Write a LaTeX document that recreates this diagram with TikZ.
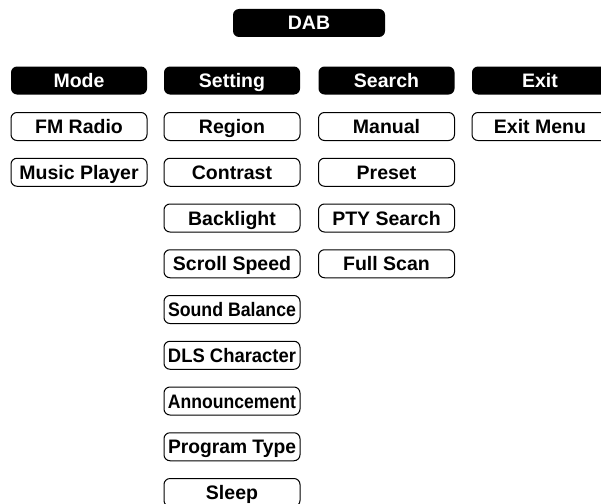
\documentclass[tikz,border=0pt]{standalone}
\usepackage{fontspec}
\setmainfont{Liberation Sans}
\usepackage{graphicx}
\newsavebox{\lblbox}
\newcommand{\fitlbl}[1]{\sbox{\lblbox}{#1}\ifdim\wd\lblbox>128pt\resizebox{128pt}{\ht\lblbox}{\usebox{\lblbox}}\else\usebox{\lblbox}\fi}
\tikzset{
  base/.style={rounded corners=6pt, minimum width=136pt, minimum height=28pt, inner sep=0pt, text height=14pt, text depth=0pt, font=\fontsize{19.5}{19.5}\selectfont\bfseries},
  hdr/.style={base, fill=black, text=white},
  item/.style={base, draw=black, line width=1pt, fill=white, text=black},
}
\begin{document}
\begin{tikzpicture}[x=1pt,y=-1pt]
\useasboundingbox (0,0) rectangle (601,503);
\clip (0,0) rectangle (601,503);
\node[hdr, minimum width=152pt] (dab) at (309,23) {DAB};
% headers
\node[hdr] (mode) at (79,80.5) {Mode};
\node[hdr] (setting) at (232,80.5) {Setting};
\node[hdr] (search) at (386.5,80.5) {Search};
\node[hdr] (exit) at (540,80.5) {Exit};
% Mode column
\node[item] (fm) at (79,126.5) {\fitlbl{FM Radio}};
\node[item] (music) at (79,172.25) {\fitlbl{Music Player}};
% Setting column
\node[item] (region) at (232,126.5) {\fitlbl{Region}};
\node[item] (contrast) at (232,172.25) {\fitlbl{Contrast}};
\node[item] (backlight) at (232,218) {\fitlbl{Backlight}};
\node[item] (scroll) at (232,263.75) {\fitlbl{Scroll Speed}};
\node[item] (sound) at (232,309.5) {\fitlbl{Sound Balance}};
\node[item] (dls) at (232,355.25) {\fitlbl{DLS Character}};
\node[item] (announce) at (232,401) {\fitlbl{Announcement}};
\node[item] (program) at (232,446.75) {\fitlbl{Program Type}};
\node[item] (sleep) at (232,492.5) {\fitlbl{Sleep}};
% Search column
\node[item] (manual) at (386.5,126.5) {\fitlbl{Manual}};
\node[item] (preset) at (386.5,172.25) {\fitlbl{Preset}};
\node[item] (pty) at (386.5,218) {\fitlbl{PTY Search}};
\node[item] (full) at (386.5,263.75) {\fitlbl{Full Scan}};
% Exit column
\node[item] (exitmenu) at (540,126.5) {\fitlbl{Exit Menu}};
\end{tikzpicture}
\end{document}
